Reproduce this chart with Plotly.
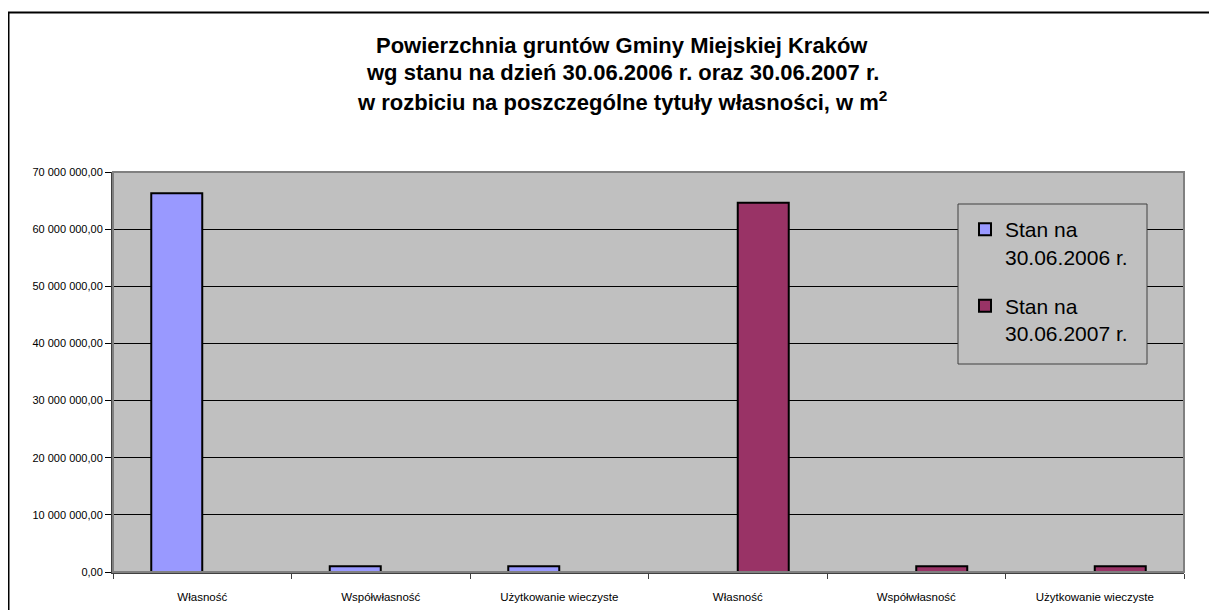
import plotly.graph_objects as go

categories = ["Własność", "Współwłasność", "Użytkowanie wieczyste",
              "Własność", "Współwłasność", "Użytkowanie wieczyste"]
positions = [0, 1, 2, 3, 4, 5]
series_names = ["Stan na<br>30.06.2006 r.", "Stan na<br>30.06.2007 r."]
values_2006 = [66300000, 1000000, 1000000, None, None, None]
values_2007 = [None, None, None, 64600000, 1000000, 1000000]
y_ticks = [0, 10000000, 20000000, 30000000, 40000000, 50000000, 60000000, 70000000]
title_lines = [
    "Powierzchnia gruntów Gminy Miejskiej Kraków",
    "wg stanu na dzień 30.06.2006 r. oraz 30.06.2007 r.",
    "w rozbiciu na poszczególne tytuły własności, w m<sup>2</sup>",
]

OFF = 8  # page body margin
W, H = 1217 - OFF, 610 - OFF
L, R, T, B = 113 - OFF, 1184 - OFF, 172 - OFF, 572 - OFF


def px(xr):
    return (xr - OFF - L) / (R - L)


def py(yr):
    return (B - (yr - OFF)) / (B - T)


fig = go.Figure()
fig.add_trace(go.Bar(x=positions, y=values_2006, name=series_names[0], legendgroup="a",
                     marker=dict(color="#9999FF", line=dict(color="#000000", width=2))))
fig.add_trace(go.Bar(x=positions, y=values_2007, name=series_names[1], legendgroup="b",
                     marker=dict(color="#993366", line=dict(color="#000000", width=2))))

font = "Arial, 'Liberation Sans', sans-serif"
fig.update_layout(
    width=W, height=H,
    margin=dict(l=L, r=W - R, t=T, b=H - B, pad=0, autoexpand=False),
    paper_bgcolor="white", plot_bgcolor="#C0C0C0",
    barmode="group", bargap=1.5 / 3.5, bargroupgap=0,
    separators=", ",
    font=dict(family=font, color="#000000"),
    showlegend=True,
    legend=dict(x=px(965), y=py(209), xanchor="left", yanchor="top",
                bgcolor="rgba(0,0,0,0)", borderwidth=0, valign="top",
                font=dict(size=21, family=font, color="#000000"),
                tracegroupgap=19, itemwidth=30),
)
fig.update_xaxes(range=[-0.5, 5.5], tickvals=positions, ticktext=categories,
                 automargin=False,
                 ticks="", tickfont=dict(size=11.5, family=font, color="#000000"),
                 ticklabelstandoff=13,
                 showline=True, linecolor="#404040", linewidth=2, showgrid=False, zeroline=False,
                 minor=dict(tickvals=[-0.5, 0.5, 1.5, 2.5, 3.5, 4.5, 5.5], ticks="outside",
                            ticklen=5, tickcolor="#404040", tickwidth=1, showgrid=False))
fig.update_yaxes(range=[0, 70000000], tickvals=y_ticks, tickformat=",.2f",
                 automargin=False,
                 ticks="outside", ticklen=6, tickcolor="#000000", tickwidth=1,
                 tickfont=dict(size=11, family=font, color="#000000"),
                 showline=True, linecolor="#404040", linewidth=2,
                 showgrid=True, gridcolor="#000000", gridwidth=1, zeroline=False)

# plot area border
fig.add_shape(type="rect", xref="paper", yref="paper", x0=0, x1=1, y0=0, y1=1,
              line=dict(color="#808080", width=2), layer="above")
# legend box
fig.add_shape(type="rect", xref="paper", yref="paper", x0=px(958), x1=px(1147),
              y0=py(364), y1=py(204), fillcolor="#C0C0C0",
              line=dict(color="#404040", width=1), layer="above")
# outer chart frame (extends past the visible window)
fig.add_shape(type="rect", xref="paper", yref="paper",
              x0=px(8.5), x1=px(1240), y0=py(640), y1=py(12.5),
              line=dict(color="#000000", width=2), layer="above")

for line, ypix in zip(title_lines, [45, 73, 101]):
    fig.add_annotation(text="<b>" + line + "</b>", xref="paper", yref="paper",
                       x=px(622), y=py(ypix),
                       xanchor="center", yanchor="middle", showarrow=False,
                       font=dict(size=22, family=font, color="#000000"))

fig.write_html("out.html")
